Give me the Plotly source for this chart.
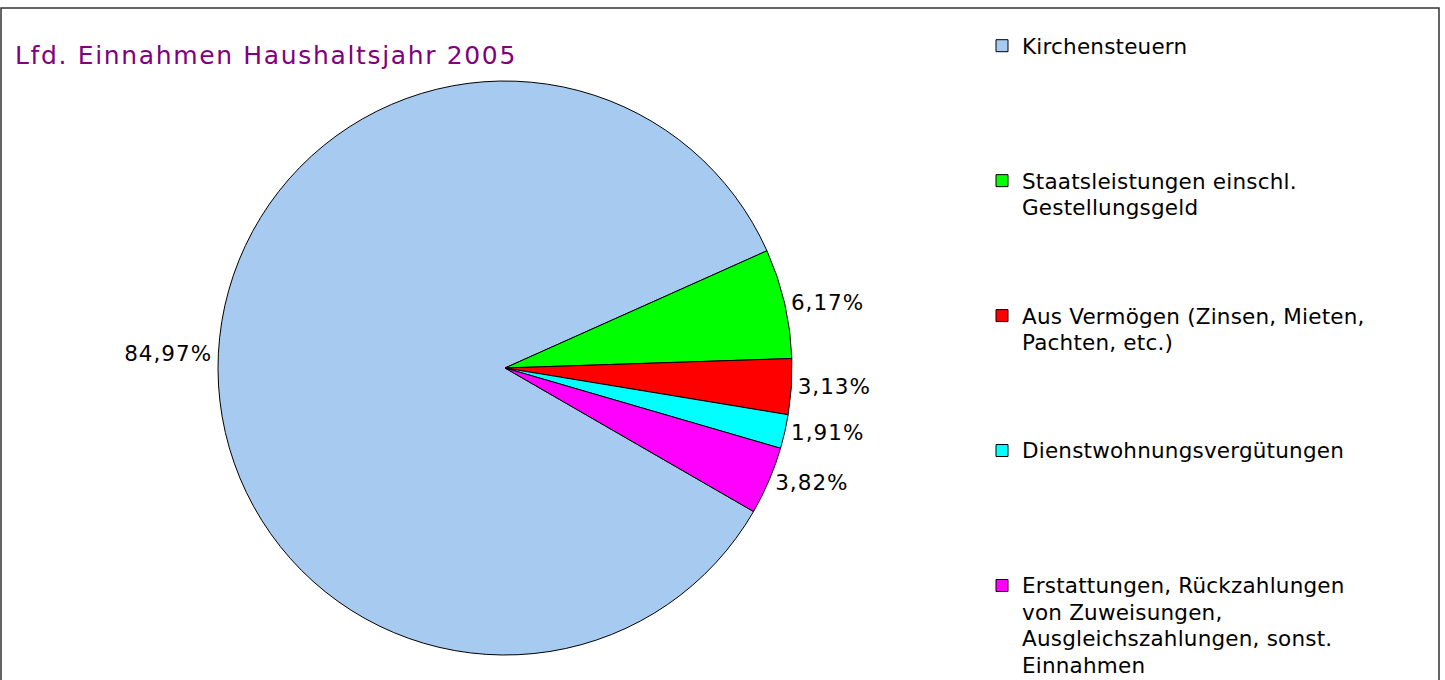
import plotly.graph_objects as go

# ---- data ----
categories = [
    ["Kirchensteuern"],
    ["Staatsleistungen einschl.", "Gestellungsgeld"],
    ["Aus Vermögen (Zinsen, Mieten,", "Pachten, etc.)"],
    ["Dienstwohnungsvergütungen"],
    ["Erstattungen, Rückzahlungen", "von Zuweisungen,", "Ausgleichszahlungen, sonst.", "Einnahmen"],
]
values = [84.97, 6.17, 3.13, 1.91, 3.82]
colors = ["#A6CAF0", "#00FF00", "#FF0000", "#00FFFF", "#FF00FF"]
title_text = "Lfd. Einnahmen Haushaltsjahr 2005"

# figure is a bit taller than the visible window; the chart frame continues below
W, H = 1445, 700
FONT = "DejaVu Sans"
FS = 20.3          # controls legend line spacing
GLYPH = 21.5       # visible glyph size

def styled(s, size, ls):
    return f'<span style="font-size:{size}px;letter-spacing:{ls}px">{s}</span>'

# pad legend labels so that every entry occupies the same number of lines
max_lines = 5
legend_labels = []
for i, lines in enumerate(categories):
    parts = [styled(l, GLYPH, 0.2) for l in lines]
    pad = (max_lines - len(lines)) if i < len(categories) - 1 else 0
    parts += ["\u00a0"] * pad
    legend_labels.append("<br>".join(parts))

pct_text = [styled(f"{v:.2f}".replace(".", ",") + "%", GLYPH, 1.0) for v in values]

cx, cy, r = 505, 368, 287
fig = go.Figure(
    go.Pie(
        labels=legend_labels,
        values=values,
        text=pct_text,
        textinfo="text",
        textposition="outside",
        sort=False,
        direction="clockwise",
        rotation=120,
        marker=dict(colors=colors, line=dict(color="black", width=1)),
        textfont=dict(family=FONT, size=GLYPH, color="black"),
        domain=dict(
            x=[(cx - r) / W, (cx + r) / W],
            y=[(H - cy - r) / H, (H - cy + r) / H],
        ),
        hoverinfo="percent",
    )
)

fig.update_layout(
    width=W,
    height=H,
    margin=dict(l=0, r=0, t=0, b=0),
    paper_bgcolor="white",
    plot_bgcolor="white",
    title=dict(
        text=f'<span style="letter-spacing:1.65px">{title_text}</span>',
        x=15 / W,
        xanchor="left",
        y=1 - 55 / H,
        yanchor="middle",
        font=dict(family=FONT, size=25, color="#800080"),
    ),
    legend=dict(
        x=982 / W,
        xanchor="left",
        y=1 - 26 / H,
        yanchor="top",
        valign="top",
        font=dict(family=FONT, size=FS, color="black"),
        bgcolor="rgba(0,0,0,0)",
        traceorder="normal",
    ),
    shapes=[
        dict(
            type="rect",
            xref="paper",
            yref="paper",
            x0=1 / W,
            x1=1439 / W,
            y0=-0.05,
            y1=1 - 8 / H,
            line=dict(color="#333333", width=1.5),
            fillcolor="rgba(0,0,0,0)",
            layer="above",
        )
    ],
)

fig.write_html(
    "out.html",
    config={"displayModeBar": False},
    post_script="document.body.style.margin='0';document.body.style.overflow='hidden';",
)
